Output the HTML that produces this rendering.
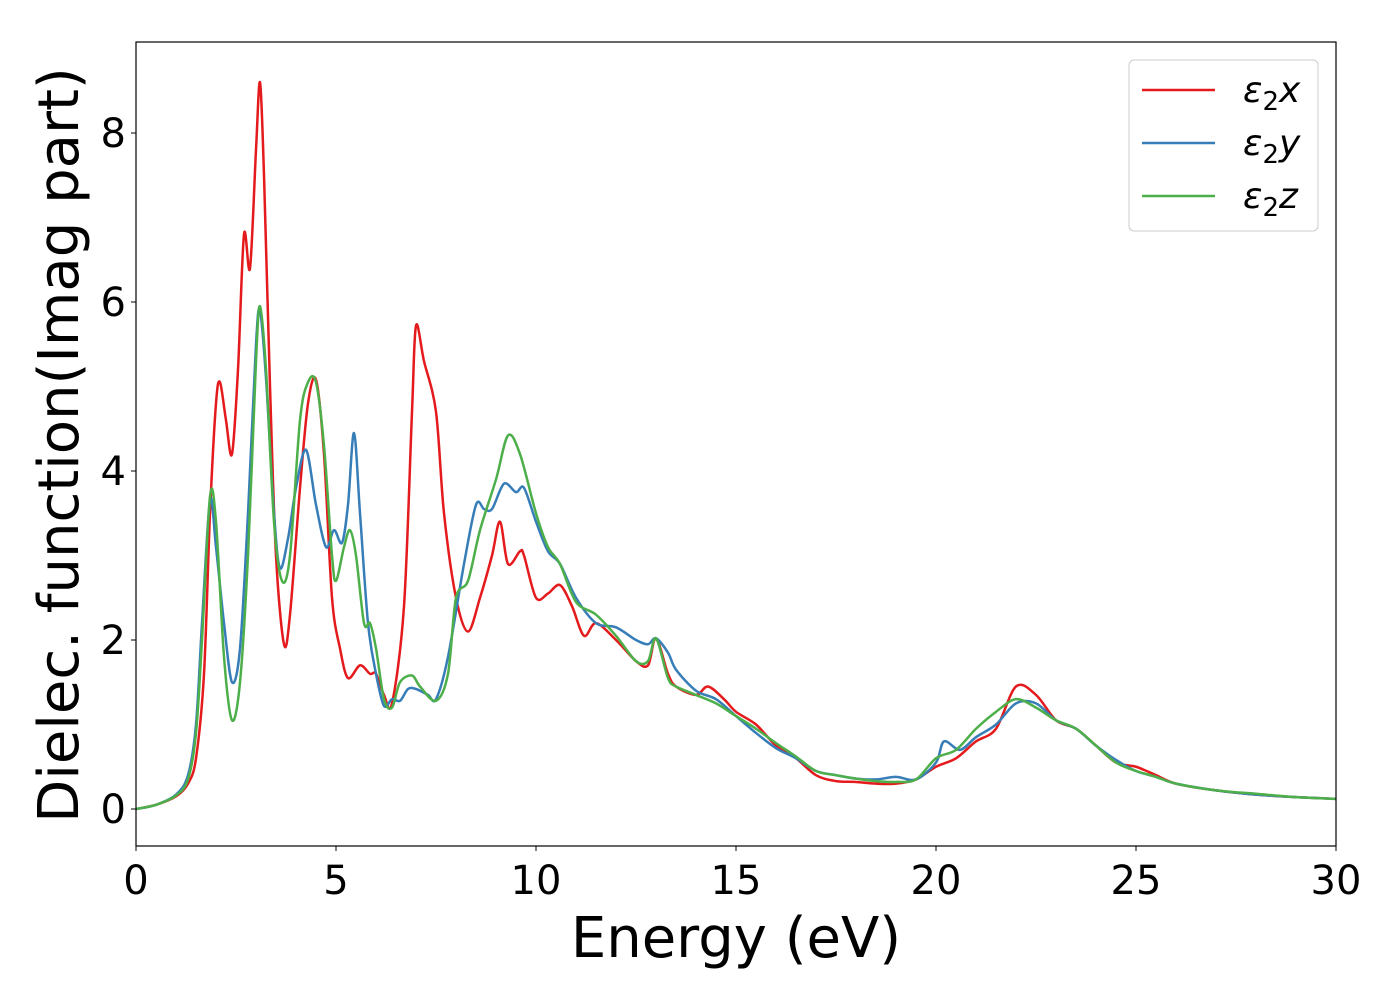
<!DOCTYPE html>
<html><head><meta charset="utf-8"><style>
body{margin:0;background:#fff}
svg text{font-family:"DejaVu Sans","Liberation Sans",sans-serif;fill:#000}
</style></head><body>
<svg width="1400" height="1000" xmlns="http://www.w3.org/2000/svg">
<g id="plot"></g>
</svg>
<script>
const energyX=[0,0.5,1.0,1.3,1.5,1.7,1.85,2.0,2.1,2.25,2.4,2.55,2.7,2.85,3.0,3.1,3.2,3.35,3.5,3.7,3.85,4.1,4.3,4.5,4.7,4.9,5.1,5.3,5.6,5.85,6.0,6.2,6.4,6.7,6.9,7.0,7.2,7.5,7.7,8.0,8.3,8.6,8.9,9.1,9.3,9.6,9.7,10.0,10.3,10.6,10.9,11.2,11.5,12.0,12.5,12.8,13.0,13.3,13.5,14.0,14.3,14.7,15.0,15.5,16.0,16.5,17.0,17.5,18,18.5,19,19.5,20,20.5,21,21.5,22,22.5,23,23.5,24,24.5,25,25.5,26,27,28,29,30];
const valuesX=[0,0.05,0.15,0.3,0.6,1.6,3.5,4.8,5.05,4.6,4.2,5.2,6.8,6.4,7.8,8.6,7.5,5.0,3.0,1.95,2.3,3.8,4.8,5.08,4.2,2.5,1.9,1.55,1.7,1.6,1.6,1.35,1.25,2.4,4.7,5.72,5.3,4.7,3.5,2.5,2.1,2.5,3.0,3.4,2.9,3.05,3.0,2.5,2.55,2.65,2.4,2.05,2.2,2.0,1.75,1.7,2.02,1.6,1.45,1.35,1.45,1.3,1.15,1.0,0.75,0.6,0.4,0.33,0.32,0.3,0.3,0.35,0.5,0.6,0.8,0.95,1.45,1.35,1.05,0.95,0.75,0.55,0.5,0.4,0.3,0.22,0.17,0.14,0.12];
const energyY=[0,0.5,1.0,1.3,1.5,1.65,1.85,2.0,2.2,2.4,2.6,2.8,3.0,3.1,3.25,3.45,3.6,3.8,4.0,4.25,4.5,4.75,4.95,5.15,5.3,5.45,5.6,5.8,6.0,6.2,6.4,6.6,6.8,7.0,7.3,7.5,7.8,8.2,8.5,8.7,8.9,9.2,9.5,9.7,10.0,10.3,10.6,11,11.5,12,12.5,12.8,13.0,13.3,13.5,14,14.5,15,15.5,16,16.5,17,17.5,18,18.5,19,19.5,20,20.2,20.6,21,21.5,22,22.5,23,23.5,24,24.5,25,25.5,26,27,28,29,30];
const valuesY=[0,0.05,0.17,0.4,1.0,2.2,3.65,3.1,2.2,1.5,1.9,3.5,5.5,5.9,5.1,3.5,2.85,3.2,3.8,4.25,3.6,3.1,3.3,3.15,3.6,4.45,3.5,2.2,1.6,1.22,1.3,1.28,1.42,1.42,1.35,1.3,1.8,2.9,3.6,3.55,3.55,3.85,3.75,3.8,3.4,3.05,2.9,2.5,2.2,2.15,2.0,1.95,2.02,1.85,1.65,1.4,1.3,1.1,0.9,0.72,0.6,0.45,0.4,0.36,0.35,0.38,0.35,0.55,0.8,0.7,0.85,1.0,1.25,1.25,1.05,0.95,0.75,0.58,0.45,0.38,0.3,0.22,0.17,0.14,0.12];
const energyZ=[0,0.5,1.0,1.3,1.5,1.65,1.85,2.0,2.2,2.4,2.6,2.8,3.0,3.1,3.25,3.45,3.65,3.85,4.1,4.3,4.5,4.7,4.9,5.0,5.2,5.35,5.5,5.7,5.85,6.0,6.2,6.4,6.6,6.9,7.1,7.5,7.8,8.0,8.3,8.6,9.0,9.3,9.6,10.0,10.3,10.6,11,11.5,12,12.5,12.8,13.0,13.3,13.5,14,14.5,15,15.5,16,16.5,17,17.5,18,18.5,19,19.5,20,20.5,21,21.5,22,22.5,23,23.5,24,24.5,25,25.5,26,27,28,29,30];
const valuesZ=[0,0.05,0.16,0.35,0.9,2.0,3.7,3.4,1.8,1.05,1.5,3.0,5.3,5.95,5.2,3.4,2.7,3.0,4.6,5.05,5.05,4.3,3.0,2.7,3.1,3.3,3.0,2.2,2.2,1.9,1.3,1.2,1.5,1.58,1.45,1.28,1.6,2.5,2.7,3.3,3.9,4.42,4.2,3.5,3.1,2.9,2.45,2.3,2.05,1.75,1.75,2.02,1.55,1.45,1.35,1.25,1.1,0.95,0.78,0.62,0.45,0.4,0.36,0.33,0.32,0.35,0.6,0.7,0.95,1.15,1.3,1.2,1.05,0.95,0.75,0.55,0.45,0.38,0.3,0.22,0.18,0.14,0.12];
const xTicks=[0,5,10,15,20,25,30];
const yTicks=[0,2,4,6,8];
const NS="http://www.w3.org/2000/svg";
const L=136,R=1336,T=42,B=846;
function sx(e){return L+(e-0)/(30-0)*(R-L);}
function sy(v){return 809-v*84.5;}
const g=document.getElementById('plot');
function mk(t,a,p){const el=document.createElementNS(NS,t);for(const k in a)el.setAttribute(k,a[k]);(p||g).appendChild(el);return el;}
function pathFor(xs,vs){const p=xs.map((e,i)=>[sx(e),sy(vs[i])]);let d='M'+p[0][0]+','+p[0][1];
for(let i=0;i<p.length-1;i++){const p0=p[Math.max(0,i-1)],p1=p[i],p2=p[i+1],p3=p[Math.min(p.length-1,i+2)];const k=0.16;
d+=` C${p1[0]+(p2[0]-p0[0])*k},${p1[1]+(p2[1]-p0[1])*k} ${p2[0]-(p3[0]-p1[0])*k},${p2[1]-(p3[1]-p1[1])*k} ${p2[0]},${p2[1]}`;}return d;}
const cp=mk('clipPath',{id:'cl'});mk('rect',{x:L,y:T,width:R-L,height:B-T},cp);
const series=[[energyX,valuesX,'#e41a1c','series-eps2x'],[energyY,valuesY,'#377eb8','series-eps2y'],[energyZ,valuesZ,'#4daf4a','series-eps2z']];
series.forEach(s=>{const el=mk('path',{d:pathFor(s[0],s[1]),fill:'none',stroke:s[2],'stroke-width':2.5,'clip-path':'url(#cl)'});

});
const fr=mk('rect',{x:L,y:T,width:R-L,height:B-T,fill:'none',stroke:'#000','stroke-width':1.2});


xTicks.forEach(t=>{mk('line',{x1:sx(t),x2:sx(t),y1:B,y2:B+5,stroke:'#000'});
const tx=mk('text',{x:sx(t),y:B+48,'text-anchor':'middle','font-size':40});tx.textContent=t;

});
yTicks.forEach(t=>{mk('line',{x1:L-5,x2:L,y1:sy(t),y2:sy(t),stroke:'#000'});
const tx=mk('text',{x:L-10,y:sy(t)+14,'text-anchor':'end','font-size':40});tx.textContent=t;

});
const xl=mk('text',{x:736,y:957,'text-anchor':'middle','font-size':56});xl.textContent='Energy (eV)';


const yl=mk('text',{x:0,y:0,'text-anchor':'middle','font-size':56,transform:'translate(78,445) rotate(-90)'});yl.textContent='Dielec. function(Imag part)';


const lg=mk('g',{});


mk('rect',{x:1129,y:60,width:189,height:171,rx:5,fill:'#fff',stroke:'#ccc'},lg);
const labs=['x','y','z'];
series.forEach((s,i)=>{const y=90+i*53;mk('line',{x1:1142,x2:1215,y1:y,y2:y,stroke:s[2],'stroke-width':2.5},lg);
const t=mk('text',{x:1243,y:y+12,'font-size':36,'font-style':'italic'},lg);
t.innerHTML='ε<tspan font-style="normal" font-size="26" dy="8">2</tspan><tspan dy="-8">'+labs[i]+'</tspan>';

});
</script>
</body></html>
